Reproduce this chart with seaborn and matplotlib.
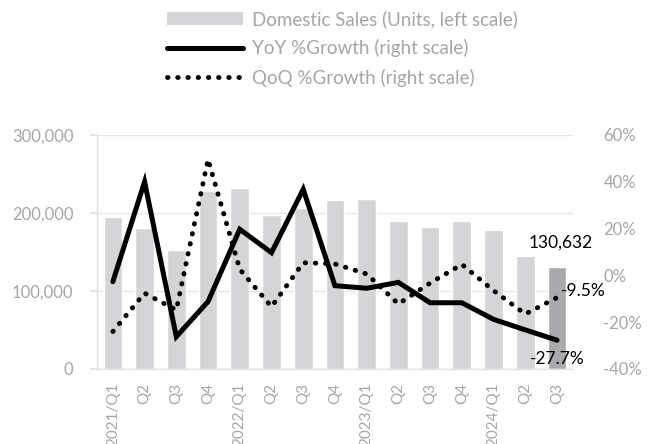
import numpy as np
import pandas as pd
import matplotlib
matplotlib.use("Agg")
import matplotlib.pyplot as plt
from matplotlib.patches import Patch
from matplotlib.lines import Line2D
from matplotlib.ticker import FuncFormatter
import seaborn as sns

# ---- data ----
quarters = ["2021/Q1", "Q2", "Q3", "Q4", "2022/Q1", "Q2", "Q3", "Q4",
            "2023/Q1", "Q2", "Q3", "Q4", "2024/Q1", "Q2", "Q3"]
sales = [195000, 180500, 152500, 228000, 232000, 197000, 207000, 217000,
         218000, 190000, 182000, 190000, 178000, 145000, 130632]
yoy = [-2.7, 40.0, -26.2, -11.2, 19.7, 9.7, 36.8, -4.4,
       -5.5, -3.0, -11.7, -11.7, -18.8, -23.3, -27.7]
qoq = [-24.0, -7.6, -14.8, 49.6, 2.6, -13.4, 5.4, 4.9,
       0.6, -12.2, -3.3, 4.7, -6.5, -16.5, -9.5]

sns.set_theme(style="white")
plt.rcParams["font.family"] = ["Lato", "DejaVu Sans"]

GRAY_TXT = "#a6a6a6"
BAR = "#d5d5d9"
BAR_LAST = "#a9a9ad"

df = pd.DataFrame({"q": quarters, "pos": np.arange(len(quarters)),
                   "sales": sales, "yoy": yoy, "qoq": qoq})

fig = plt.figure(figsize=(6.51, 4.44), dpi=100)
ax = fig.add_axes([0.149, 0.169, 0.731, 0.527])

colors = [BAR] * (len(sales) - 1) + [BAR_LAST]
sns.barplot(data=df, x="pos", y="sales", hue="pos", palette=colors,
            legend=False, width=0.59, ax=ax, saturation=1)
ax.set_xlim(-0.5, 14.5)
ax.set_ylim(0, 300000)
ax.set_yticks([0, 100000, 200000, 300000])
ax.yaxis.set_major_formatter(FuncFormatter(lambda v, p: f"{int(v):,}"))
ax.set_xticks(df["pos"])
ax.set_xticklabels(quarters, rotation=90)
ax.set_xlabel("")
ax.set_ylabel("")
ax.grid(axis="y", color="#e6e6e6", linewidth=1)
ax.set_axisbelow(True)
for s in ["top", "right"]:
    ax.spines[s].set_visible(False)
for s in ["left", "bottom"]:
    ax.spines[s].set_color("#e0e0e0")
    ax.spines[s].set_linewidth(1)
ax.tick_params(axis="y", left=True, length=5, color="#e0e0e0", pad=12,
               labelsize=12, labelcolor=GRAY_TXT)
ax.tick_params(axis="x", bottom=False, length=0, pad=10,
               labelsize=11, labelcolor=GRAY_TXT)

ax2 = ax.twinx()
sns.lineplot(data=df, x="pos", y="yoy", ax=ax2, color="black", linewidth=3.6,
             solid_capstyle="round", solid_joinstyle="miter")
sns.lineplot(data=df, x="pos", y="qoq", ax=ax2, color="black", linewidth=3.5,
             linestyle=(0, (0.1, 2.0)), dash_capstyle="round")
ax2.set_ylim(-40, 60)
ax2.set_yticks([-40, -20, 0, 20, 40, 60])
ax2.yaxis.set_major_formatter(FuncFormatter(lambda v, p: f"{int(v)}%"))
ax2.set_xlim(-0.5, 14.5)
ax2.set_xlabel("")
ax2.set_ylabel("")
for s in ["top", "right", "left", "bottom"]:
    ax2.spines[s].set_visible(False)
ax2.tick_params(axis="y", right=False, length=0, pad=22,
                labelsize=12, labelcolor=GRAY_TXT)
ax2.grid(False)

# data labels
last = len(sales) - 1
ax.annotate(f"{sales[last]:,}", xy=(df["pos"][last], sales[last]),
            xytext=(3, 12), textcoords="offset points", ha="center",
            va="bottom", fontsize=12.5, color="black")
ax2.annotate(f"{qoq[last]}%", xy=(df["pos"][last], qoq[last]),
             xytext=(3, 5), textcoords="offset points", ha="left",
             va="center", fontsize=12.5, color="black")
ax2.annotate(f"{yoy[last]}%", xy=(df["pos"][last], yoy[last]),
             xytext=(0, -8), textcoords="offset points", ha="center",
             va="top", fontsize=12.5, color="black")

handles = [Patch(facecolor=BAR, edgecolor="none"),
           Line2D([], [], color="black", linewidth=3.6),
           Line2D([], [], color="black", linewidth=3.5,
                  linestyle=(0, (0.1, 2.0)), dash_capstyle="round")]
labels = ["Domestic Sales (Units, left scale)", "YoY %Growth (right scale)",
          "QoQ %Growth (right scale)"]
leg = fig.legend(handles, labels, loc="upper center",
                 bbox_to_anchor=(0.526, 0.998), frameon=False, fontsize=13.5,
                 handlelength=4.1, handletextpad=0.48, labelspacing=0.6,
                 borderaxespad=0.1)
for t in leg.get_texts():
    t.set_color(GRAY_TXT)

fig.savefig("out.png", dpi=100)
